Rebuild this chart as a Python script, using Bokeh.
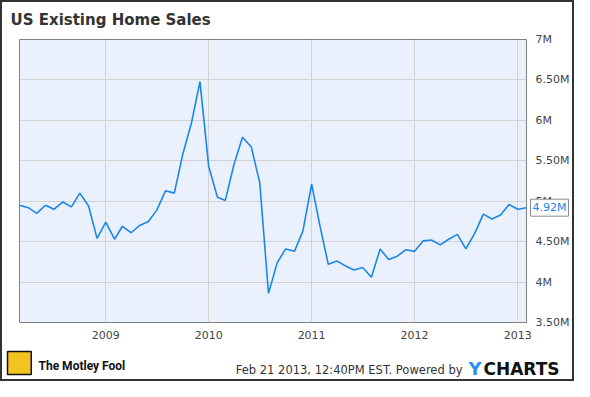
import pandas as pd
from bokeh.plotting import figure
from bokeh.layouts import column
from bokeh.models import FixedTicker, LinearAxis, Range1d, Label, DatetimeTickFormatter
from bokeh.embed import file_html
from bokeh.resources import INLINE

title_text = "US Existing Home Sales"
start_month = "2008-03-01"
sales_millions = [
    4.95, 4.92, 4.85, 4.95, 4.90, 4.99, 4.93, 5.10, 4.94, 4.54,
    4.74, 4.53, 4.69, 4.61, 4.70, 4.75, 4.89, 5.13, 5.10, 5.58,
    5.97, 6.48, 5.43, 5.05, 5.01, 5.46, 5.79, 5.67, 5.23, 3.86,
    4.24, 4.41, 4.38, 4.63, 5.21, 4.67, 4.22, 4.26, 4.20, 4.15,
    4.18, 4.06, 4.41, 4.28, 4.32, 4.40, 4.38, 4.51, 4.52, 4.46,
    4.53, 4.59, 4.41, 4.60, 4.84, 4.78, 4.83, 4.96, 4.90, 4.92,
]
year_ticks = ["2009-01-01", "2010-01-01", "2011-01-01", "2012-01-01", "2013-01-01"]
y_ticks = [3.5, 4.0, 4.5, 5.0, 5.5, 6.0, 6.5, 7.0]
y_tick_labels = ["3.50M", "4M", "4.50M", "5M", "5.50M", "6M", "6.50M", "7M"]
last_label = "4.92M"
footer_left = "The Motley Fool"
footer_right = "Feb 21 2013, 12:40PM EST. Powered by"
brand_first = "Y"
brand_rest = "CHARTS"

dates = pd.date_range(start_month, periods=len(sales_millions), freq="MS")
tick_ms = [pd.Timestamp(d).value / 1e6 for d in year_ticks]

W = 570
HM, HF = 340, 37
BLUE = "#1B87E6"
TXT = "#444444"

p = figure(width=W, height=HM, x_axis_type="datetime", output_backend="svg",
           toolbar_location=None, y_range=Range1d(3.5, 7.0),
           x_range=Range1d(dates[0], dates[-1]), frame_align=False,
           min_border_left=17, min_border_right=41, min_border_top=37, min_border_bottom=20)
p.yaxis.visible = False
p.background_fill_color = "#EAF1FC"
p.border_fill_color = "white"
p.outline_line_color = "#808080"
p.outline_line_width = 1

yax = LinearAxis(ticker=FixedTicker(ticks=y_ticks),
                 major_label_overrides={t: l for t, l in zip(y_ticks, y_tick_labels)})
p.add_layout(yax, "right")
for ax in [yax, p.xaxis[0]]:
    ax.axis_line_color = None
    ax.major_tick_line_color = None
    ax.minor_tick_line_color = None
    ax.major_label_text_color = TXT
    ax.major_label_text_font = "DejaVu Sans"
    ax.major_label_text_font_size = "11px"
yax.major_label_standoff = 3
p.xaxis.major_label_standoff = 2
p.xaxis.ticker = FixedTicker(ticks=tick_ms)
p.xaxis.formatter = DatetimeTickFormatter(years="%Y", months="%Y", days="%Y", hours="%Y")

p.xgrid.ticker = FixedTicker(ticks=tick_ms)
p.ygrid.ticker = FixedTicker(ticks=y_ticks)
p.xgrid.grid_line_color = "#D2D2D2"
p.ygrid.grid_line_color = "#D2D2D2"

p.line(dates, sales_millions, line_color=BLUE, line_width=1.6)

p.add_layout(Label(x=-9, y=20, x_units="screen", y_units="screen", text=title_text,
                   text_font="DejaVu Sans", text_font_style="bold", text_font_size="15px",
                   text_color="#333333", text_baseline="middle"), "above")

callout = Label(x=dates[-1], y=sales_millions[-1], text=last_label, x_offset=4,
                text_color=BLUE, text_font="DejaVu Sans", text_font_size="11px",
                text_baseline="middle", background_fill_color="white",
                border_line_color="#8A8A8A", padding=2)
p.add_layout(callout, "above")

f = figure(width=W, height=HF, output_backend="svg", toolbar_location=None,
           x_axis_location=None, y_axis_location=None, min_border=0, frame_align=False,
           x_range=Range1d(0, 1), y_range=Range1d(0, 1))
f.grid.visible = False
f.outline_line_color = None
f.background_fill_color = "white"
f.border_fill_color = "white"

f.add_layout(Label(x=5, y=5, x_units="screen", y_units="screen",
                   text="\u00a0\u00a0\u00a0\u00a0",
                   background_fill_color="#F3C41F", border_line_color="#111111",
                   border_line_width=1.5, text_font_size="16px", padding=3))
f.add_layout(Label(x=36, y=14, x_units="screen", y_units="screen", text=footer_left,
                   text_font="Roboto", text_font_style="bold",
                   text_font_size="12px", text_color="#111111", text_baseline="middle"))
f.add_layout(Label(x=460, y=10, x_units="screen", y_units="screen", text=footer_right,
                   text_font="DejaVu Sans", text_font_size="11.5px", text_align="right",
                   text_color="#333333", text_baseline="middle"))
f.add_layout(Label(x=466, y=11, x_units="screen", y_units="screen", text=brand_first,
                   text_font="DejaVu Sans", text_font_style="bold", text_font_size="18px",
                   text_color="#2A8FF0", text_baseline="middle"))
f.add_layout(Label(x=481, y=11, x_units="screen", y_units="screen", text=brand_rest,
                   text_font="DejaVu Sans", text_font_style="bold", text_font_size="17px",
                   text_color="#111111", text_baseline="middle"))

layout = column(p, f, spacing=0)
layout.styles = {"border": "2px solid #333333"}

open("out.html", "w").write(file_html(layout, INLINE))
